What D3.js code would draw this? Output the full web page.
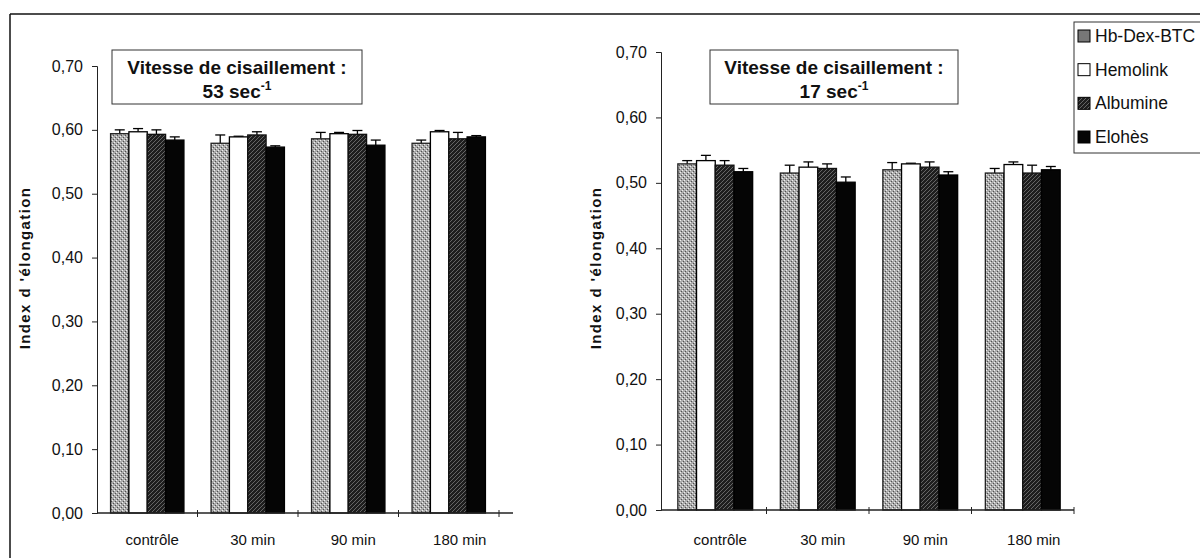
<!DOCTYPE html>
<html>
<head>
<meta charset="utf-8">
<script src="https://cdn.jsdelivr.net/npm/d3@7"></script>
<style>
  html, body { margin: 0; padding: 0; background: #fff; }
  svg { display: block; font-family: "Liberation Sans", Arial, sans-serif; }
</style>
</head>
<body>
<svg id="chart" width="1200" height="558"></svg>
<script>
// ---------- data ----------
const categories = ["contrôle", "30 min", "90 min", "180 min"];
const seriesNames = ["Hb-Dex-BTC", "Hemolink", "Albumine", "Elohès"];
const yTickValues = [0, 0.1, 0.2, 0.3, 0.4, 0.5, 0.6, 0.7];

// shear rate 53 sec-1 (left)
const hbDex53    = [0.594, 0.579, 0.586, 0.579];
const hemolink53 = [0.597, 0.589, 0.594, 0.597];
const albumine53 = [0.593, 0.592, 0.593, 0.586];
const elohes53   = [0.584, 0.573, 0.576, 0.589];
const hbDex53Err    = [0.006, 0.013, 0.010, 0.005];
const hemolink53Err = [0.005, 0.001, 0.002, 0.002];
const albumine53Err = [0.007, 0.005, 0.006, 0.010];
const elohes53Err   = [0.005, 0.002, 0.008, 0.002];

// shear rate 17 sec-1 (right)
const hbDex17    = [0.529, 0.515, 0.520, 0.515];
const hemolink17 = [0.534, 0.524, 0.529, 0.528];
const albumine17 = [0.527, 0.522, 0.524, 0.515];
const elohes17   = [0.517, 0.501, 0.512, 0.520];
const hbDex17Err    = [0.005, 0.012, 0.011, 0.007];
const hemolink17Err = [0.008, 0.008, 0.001, 0.004];
const albumine17Err = [0.007, 0.007, 0.008, 0.012];
const elohes17Err   = [0.005, 0.008, 0.005, 0.005];

const panels = [
  { title: ["Vitesse de cisaillement :", "53 sec", "-1"],
    values: [hbDex53, hemolink53, albumine53, elohes53],
    errors: [hbDex53Err, hemolink53Err, albumine53Err, elohes53Err],
    axisX: 97, xr: [97, 499], axisEnd: 513, yr: [513, 66],
    box: [112, 50, 362, 104], yTitleX: 25 },
  { title: ["Vitesse de cisaillement :", "17 sec", "-1"],
    values: [hbDex17, hemolink17, albumine17, elohes17],
    errors: [hbDex17Err, hemolink17Err, albumine17Err, elohes17Err],
    axisX: 661, xr: [664, 1074], axisEnd: 1074, yr: [510, 52],
    box: [710, 50, 958, 104], yTitleX: 596 }
];

const svg = d3.select("#chart");
const defs = svg.append("defs");

// textures
const p1 = defs.append("pattern").attr("id", "hbPat").attr("patternUnits", "userSpaceOnUse")
  .attr("width", 4).attr("height", 4);
p1.append("rect").attr("width", 4).attr("height", 4).attr("fill", "#ababab");
p1.append("rect").attr("x", 0).attr("y", 0).attr("width", 1).attr("height", 1).attr("fill", "#eeeeee");
p1.append("rect").attr("x", 2).attr("y", 2).attr("width", 1).attr("height", 1).attr("fill", "#eeeeee");
p1.append("rect").attr("x", 1).attr("y", 3).attr("width", 1).attr("height", 1).attr("fill", "#505050");
p1.append("rect").attr("x", 3).attr("y", 1).attr("width", 1).attr("height", 1).attr("fill", "#505050");

const p3 = defs.append("pattern").attr("id", "albPat").attr("patternUnits", "userSpaceOnUse")
  .attr("width", 4).attr("height", 4);
p3.append("rect").attr("width", 4).attr("height", 4).attr("fill", "#1e1e1e");
p3.append("path").attr("d", "M0,4 L4,0").attr("stroke", "#858585").attr("stroke-width", 0.7);

const fills = ["url(#hbPat)", "#ffffff", "url(#albPat)", "#050505"];
const strokes = ["#222", "#000", "#111", "#000"];

// frame
svg.append("line").attr("x1", 10).attr("x2", 10).attr("y1", 14).attr("y2", 558)
  .attr("stroke", "#111").attr("stroke-width", 1.5);
svg.append("line").attr("x1", 10).attr("x2", 1200).attr("y1", 14).attr("y2", 14)
  .attr("stroke", "#111").attr("stroke-width", 1.5);

const fmt = v => d3.format(".2f")(v).replace(".", ",");

panels.forEach(p => {
  const g = svg.append("g");
  const x0 = d3.scaleBand().domain(categories).range(p.xr).paddingInner(0.27).paddingOuter(0.135);
  const x1 = d3.scaleBand().domain(seriesNames).range([0, x0.bandwidth()]).padding(0);
  const y = d3.scaleLinear().domain([0, 0.7]).range(p.yr);

  // y axis
  const yAxis = d3.axisLeft(y).tickValues(yTickValues).tickFormat(fmt).tickSize(5).tickPadding(9);
  const ya = g.append("g").attr("transform", `translate(${p.axisX},0)`).call(yAxis);
  ya.select(".domain").attr("stroke", "#222").attr("stroke-width", 1);
  ya.selectAll(".tick line").attr("stroke", "#222");
  ya.selectAll("text").attr("font-size", 16).attr("fill", "#111")
    .attr("font-family", "'Liberation Sans', Arial, sans-serif");

  // bars
  categories.forEach((c, ci) => {
    seriesNames.forEach((s, si) => {
      const v = p.values[si][ci];
      const e = p.errors[si][ci];
      const bx = x0(c) + x1(s);
      const bw = x1.bandwidth();
      const cx = bx + bw / 2;
      g.append("line").attr("x1", cx).attr("x2", cx).attr("y1", y(v)).attr("y2", y(v + e))
        .attr("stroke", "#000").attr("stroke-width", 1.3);
      g.append("line").attr("x1", cx - 5).attr("x2", cx + 5).attr("y1", y(v + e)).attr("y2", y(v + e))
        .attr("stroke", "#000").attr("stroke-width", 1.3);
      g.append("rect").attr("x", bx).attr("y", y(v)).attr("width", bw).attr("height", y(0) - y(v))
        .attr("fill", fills[si]).attr("stroke", strokes[si]).attr("stroke-width", 1.3);
    });
  });

  // x axis line + tick marks between categories
  g.append("line").attr("x1", p.axisX).attr("x2", p.axisEnd).attr("y1", y(0)).attr("y2", y(0))
    .attr("stroke", "#222").attr("stroke-width", 1.5);
  categories.slice(1).forEach(c => {
    const tx = x0(c) - x0.step() * x0.paddingInner() / 2;
    g.append("line").attr("x1", tx).attr("x2", tx).attr("y1", y(0) - 3).attr("y2", y(0) + 4)
      .attr("stroke", "#222").attr("stroke-width", 1);
  });
  const tEnd = p.xr[1];
  g.append("line").attr("x1", tEnd).attr("x2", tEnd).attr("y1", y(0) - 3).attr("y2", y(0) + 4)
    .attr("stroke", "#222").attr("stroke-width", 1);

  // x labels
  g.selectAll("text.xl").data(categories).enter().append("text").attr("class", "xl")
    .attr("x", (d, i) => x0(d) + x0.bandwidth() / 2 + 5 + (i === 3 ? 6 : 0)).attr("y", 545)
    .attr("text-anchor", "middle").attr("font-size", 15).attr("fill", "#111").text(d => d);

  // y axis title
  g.append("text").attr("transform", `translate(${p.yTitleX + 5},268) rotate(-90)`)
    .attr("text-anchor", "middle").attr("font-size", 15).attr("font-weight", "bold")
    .attr("letter-spacing", 1.4).attr("fill", "#111").text("Index d 'élongation");

  // title box
  const [bx0, by0, bx1, by1] = p.box;
  g.append("rect").attr("x", bx0).attr("y", by0).attr("width", bx1 - bx0).attr("height", by1 - by0)
    .attr("fill", "#fff").attr("stroke", "#333").attr("stroke-width", 1);
  const cxT = (bx0 + bx1) / 2;
  g.append("text").attr("x", cxT).attr("y", by0 + 24).attr("text-anchor", "middle")
    .attr("font-size", 19).attr("font-weight", "bold").attr("fill", "#111").text(p.title[0]);
  const t2 = g.append("text").attr("x", cxT).attr("y", by0 + 48).attr("text-anchor", "middle")
    .attr("font-size", 19).attr("font-weight", "bold").attr("fill", "#111");
  t2.append("tspan").text(p.title[1]);
  t2.append("tspan").attr("dy", -8).attr("font-size", 12).text(p.title[2]);
});

// legend
const lg = svg.append("g");
lg.append("rect").attr("x", 1074).attr("y", 22).attr("width", 150).attr("height", 131)
  .attr("fill", "#fff").attr("stroke", "#333").attr("stroke-width", 1);
const legY = d3.scalePoint().domain(seriesNames).range([36, 137]);
seriesNames.forEach((s, i) => {
  lg.append("rect").attr("x", 1078).attr("y", legY(s) - 6).attr("width", 12).attr("height", 12)
    .attr("fill", i === 0 ? "#777" : fills[i]).attr("stroke", "#000").attr("stroke-width", 1);
  lg.append("text").attr("x", 1095).attr("y", legY(s) + 6).attr("font-size", 17.5)
    .attr("fill", "#111").text(s);
});
</script>
</body>
</html>
